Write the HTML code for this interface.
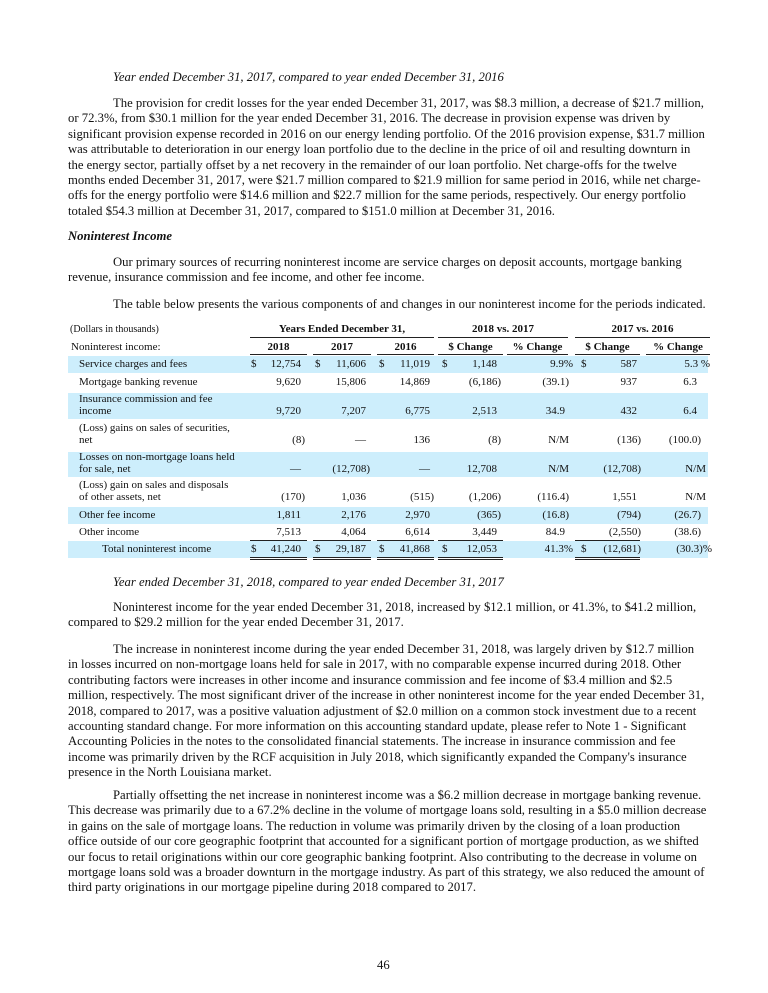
<!DOCTYPE html>
<html><head><meta charset="utf-8"><style>
html,body{margin:0;padding:0;background:#fff;}
body{width:768px;height:993px;position:relative;overflow:hidden;font-family:"Liberation Serif",serif;color:#111;}
.l{position:absolute;white-space:nowrap;font-size:12.7px;line-height:16px;}
.i{font-style:italic;}
.b{font-weight:bold;}
.t{position:absolute;white-space:nowrap;font-size:11px;line-height:14px;}
.band{position:absolute;left:68px;width:640px;background:#cdeefc;}
.hl{position:absolute;height:1.4px;background:#222;}
</style></head><body>

<div class="l i" style="left:113px;top:69px">Year ended December 31, 2017, compared to year ended December 31, 2016</div>
<div class="l" style="left:113px;top:95px">The provision for credit losses for the year ended December 31, 2017, was $8.3 million, a decrease of $21.7 million,</div>
<div class="l" style="left:68px;top:110.4px">or 72.3%, from $30.1 million for the year ended December 31, 2016. The decrease in provision expense was driven by</div>
<div class="l" style="left:68px;top:125.8px">significant provision expense recorded in 2016 on our energy lending portfolio. Of the 2016 provision expense, $31.7 million</div>
<div class="l" style="left:68px;top:141.2px">was attributable to deterioration in our energy loan portfolio due to the decline in the price of oil and resulting downturn in</div>
<div class="l" style="left:68px;top:156.6px">the energy sector, partially offset by a net recovery in the remainder of our loan portfolio. Net charge-offs for the twelve</div>
<div class="l" style="left:68px;top:172px">months ended December 31, 2017, were $21.7 million compared to $21.9 million for same period in 2016, while net charge-</div>
<div class="l" style="left:68px;top:187.4px">offs for the energy portfolio were $14.6 million and $22.7 million for the same periods, respectively. Our energy portfolio</div>
<div class="l" style="left:68px;top:202.8px">totaled $54.3 million at December 31, 2017, compared to $151.0 million at December 31, 2016.</div>

<div class="l i b" style="left:68px;top:228px">Noninterest Income</div>
<div class="l" style="left:113px;top:254px">Our primary sources of recurring noninterest income are service charges on deposit accounts, mortgage banking</div>
<div class="l" style="left:68px;top:269.4px">revenue, insurance commission and fee income, and other fee income.</div>
<div class="l" style="left:113px;top:296px">The table below presents the various components of and changes in our noninterest income for the periods indicated.</div>

<!-- table bands -->
<div class="band" style="top:356px;height:17px"></div>
<div class="band" style="top:393px;height:26px"></div>
<div class="band" style="top:452px;height:25px"></div>
<div class="band" style="top:507px;height:17px"></div>
<div class="band" style="top:541px;height:17px"></div>

<div class="t" style="left:70px;top:323px;font-size:10px">(Dollars in thousands)</div>
<div class="t b" style="left:250px;width:184px;text-align:center;top:322px">Years Ended December 31,</div>
<div class="t b" style="left:438px;width:130px;text-align:center;top:322px">2018 vs. 2017</div>
<div class="t b" style="left:575px;width:135px;text-align:center;top:322px">2017 vs. 2016</div>
<div class="hl" style="left:250px;width:184px;top:337px"></div>
<div class="hl" style="left:438px;width:130px;top:337px"></div>
<div class="hl" style="left:575px;width:135px;top:337px"></div>

<div class="t" style="left:71px;top:340px">Noninterest income:</div>
<div class="t b" style="left:250px;width:57px;text-align:center;top:340px">2018</div>
<div class="t b" style="left:313px;width:58px;text-align:center;top:340px">2017</div>
<div class="t b" style="left:377px;width:57px;text-align:center;top:340px">2016</div>
<div class="t b" style="left:438px;width:65px;text-align:center;top:340px">$ Change</div>
<div class="t b" style="left:507px;width:61px;text-align:center;top:340px">% Change</div>
<div class="t b" style="left:575px;width:65px;text-align:center;top:340px">$ Change</div>
<div class="t b" style="left:646px;width:64px;text-align:center;top:340px">% Change</div>
<div class="hl" style="left:250px;width:57px;top:354px"></div>
<div class="hl" style="left:313px;width:58px;top:354px"></div>
<div class="hl" style="left:377px;width:57px;top:354px"></div>
<div class="hl" style="left:438px;width:65px;top:354px"></div>
<div class="hl" style="left:507px;width:61px;top:354px"></div>
<div class="hl" style="left:575px;width:65px;top:354px"></div>
<div class="hl" style="left:646px;width:64px;top:354px"></div>

<!-- labels -->
<div class="t" style="left:79px;top:357px">Service charges and fees</div>
<div class="t" style="left:79px;top:375px">Mortgage banking revenue</div>
<div class="t" style="left:79px;top:392px">Insurance commission and fee</div>
<div class="t" style="left:79px;top:404px">income</div>
<div class="t" style="left:79px;top:421px">(Loss) gains on sales of securities,</div>
<div class="t" style="left:79px;top:433px">net</div>
<div class="t" style="left:79px;top:450px">Losses on non-mortgage loans held</div>
<div class="t" style="left:79px;top:462px">for sale, net</div>
<div class="t" style="left:79px;top:478px">(Loss) gain on sales and disposals</div>
<div class="t" style="left:79px;top:490px">of other assets, net</div>
<div class="t" style="left:79px;top:508px">Other fee income</div>
<div class="t" style="left:79px;top:525px">Other income</div>
<div class="t" style="left:102px;top:542px">Total noninterest income</div>

<!-- dollar signs -->
<div class="t" style="left:251px;top:357px">$</div>
<div class="t" style="left:315px;top:357px">$</div>
<div class="t" style="left:379px;top:357px">$</div>
<div class="t" style="left:442px;top:357px">$</div>
<div class="t" style="left:581px;top:357px">$</div>
<div class="t" style="left:251px;top:542px">$</div>
<div class="t" style="left:315px;top:542px">$</div>
<div class="t" style="left:379px;top:542px">$</div>
<div class="t" style="left:442px;top:542px">$</div>
<div class="t" style="left:581px;top:542px">$</div>

<!-- Service -->
<div class="t" style="right:467px;top:357px">12,754</div>
<div class="t" style="right:402px;top:357px">11,606</div>
<div class="t" style="right:338px;top:357px">11,019</div>
<div class="t" style="right:271px;top:357px">1,148</div>
<div class="t" style="right:195px;top:357px">9.9%</div>
<div class="t" style="right:131px;top:357px">587</div>
<div class="t" style="right:58px;top:357px">5.3 %</div>
<!-- Mortgage -->
<div class="t" style="right:467px;top:375px">9,620</div>
<div class="t" style="right:402px;top:375px">15,806</div>
<div class="t" style="right:338px;top:375px">14,869</div>
<div class="t" style="right:267px;top:375px">(6,186)</div>
<div class="t" style="right:199px;top:375px">(39.1)</div>
<div class="t" style="right:131px;top:375px">937</div>
<div class="t" style="right:71px;top:375px">6.3</div>
<!-- Insurance -->
<div class="t" style="right:467px;top:404px">9,720</div>
<div class="t" style="right:402px;top:404px">7,207</div>
<div class="t" style="right:338px;top:404px">6,775</div>
<div class="t" style="right:271px;top:404px">2,513</div>
<div class="t" style="right:203px;top:404px">34.9</div>
<div class="t" style="right:131px;top:404px">432</div>
<div class="t" style="right:71px;top:404px">6.4</div>
<!-- Loss gains securities -->
<div class="t" style="right:463px;top:433px">(8)</div>
<div class="t" style="right:402px;top:433px">—</div>
<div class="t" style="right:338px;top:433px">136</div>
<div class="t" style="right:267px;top:433px">(8)</div>
<div class="t" style="right:199px;top:433px">N/M</div>
<div class="t" style="right:127px;top:433px">(136)</div>
<div class="t" style="right:67px;top:433px">(100.0)</div>
<!-- Losses non-mortgage -->
<div class="t" style="right:467px;top:462px">—</div>
<div class="t" style="right:398px;top:462px">(12,708)</div>
<div class="t" style="right:338px;top:462px">—</div>
<div class="t" style="right:271px;top:462px">12,708</div>
<div class="t" style="right:199px;top:462px">N/M</div>
<div class="t" style="right:127px;top:462px">(12,708)</div>
<div class="t" style="right:62px;top:462px">N/M</div>
<!-- Loss gain other assets -->
<div class="t" style="right:463px;top:490px">(170)</div>
<div class="t" style="right:402px;top:490px">1,036</div>
<div class="t" style="right:334px;top:490px">(515)</div>
<div class="t" style="right:267px;top:490px">(1,206)</div>
<div class="t" style="right:199px;top:490px">(116.4)</div>
<div class="t" style="right:131px;top:490px">1,551</div>
<div class="t" style="right:62px;top:490px">N/M</div>
<!-- Other fee -->
<div class="t" style="right:467px;top:508px">1,811</div>
<div class="t" style="right:402px;top:508px">2,176</div>
<div class="t" style="right:338px;top:508px">2,970</div>
<div class="t" style="right:267px;top:508px">(365)</div>
<div class="t" style="right:199px;top:508px">(16.8)</div>
<div class="t" style="right:127px;top:508px">(794)</div>
<div class="t" style="right:67px;top:508px">(26.7)</div>
<!-- Other income -->
<div class="t" style="right:467px;top:525px">7,513</div>
<div class="t" style="right:402px;top:525px">4,064</div>
<div class="t" style="right:338px;top:525px">6,614</div>
<div class="t" style="right:271px;top:525px">3,449</div>
<div class="t" style="right:203px;top:525px">84.9</div>
<div class="t" style="right:127px;top:525px">(2,550)</div>
<div class="t" style="right:67px;top:525px">(38.6)</div>
<!-- Total -->
<div class="t" style="right:467px;top:542px">41,240</div>
<div class="t" style="right:402px;top:542px">29,187</div>
<div class="t" style="right:338px;top:542px">41,868</div>
<div class="t" style="right:271px;top:542px">12,053</div>
<div class="t" style="right:195px;top:542px">41.3%</div>
<div class="t" style="right:127px;top:542px">(12,681)</div>
<div class="t" style="right:56px;top:542px">(30.3)%</div>

<!-- total lines -->
<div class="hl" style="left:250px;width:57px;top:540px;height:1px"></div>
<div class="hl" style="left:313px;width:58px;top:540px;height:1px"></div>
<div class="hl" style="left:377px;width:57px;top:540px;height:1px"></div>
<div class="hl" style="left:438px;width:65px;top:540px;height:1px"></div>
<div class="hl" style="left:575px;width:65px;top:540px;height:1px"></div>
<div class="hl" style="left:250px;width:57px;top:556.5px;height:1px"></div>
<div class="hl" style="left:313px;width:58px;top:556.5px;height:1px"></div>
<div class="hl" style="left:377px;width:57px;top:556.5px;height:1px"></div>
<div class="hl" style="left:438px;width:65px;top:556.5px;height:1px"></div>
<div class="hl" style="left:575px;width:65px;top:556.5px;height:1px"></div>
<div class="hl" style="left:250px;width:57px;top:559px;height:1px"></div>
<div class="hl" style="left:313px;width:58px;top:559px;height:1px"></div>
<div class="hl" style="left:377px;width:57px;top:559px;height:1px"></div>
<div class="hl" style="left:438px;width:65px;top:559px;height:1px"></div>
<div class="hl" style="left:575px;width:65px;top:559px;height:1px"></div>

<div class="l i" style="left:113px;top:574px">Year ended December 31, 2018, compared to year ended December 31, 2017</div>
<div class="l" style="left:113px;top:599px">Noninterest income for the year ended December 31, 2018, increased by $12.1 million, or 41.3%, to $41.2 million,</div>
<div class="l" style="left:68px;top:614.4px">compared to $29.2 million for the year ended December 31, 2017.</div>

<div class="l" style="left:113px;top:641px">The increase in noninterest income during the year ended December 31, 2018, was largely driven by $12.7 million</div>
<div class="l" style="left:68px;top:656.4px">in losses incurred on non-mortgage loans held for sale in 2017, with no comparable expense incurred during 2018. Other</div>
<div class="l" style="left:68px;top:671.8px">contributing factors were increases in other income and insurance commission and fee income of $3.4 million and $2.5</div>
<div class="l" style="left:68px;top:687.2px">million, respectively. The most significant driver of the increase in other noninterest income for the year ended December 31,</div>
<div class="l" style="left:68px;top:702.6px">2018, compared to 2017, was a positive valuation adjustment of $2.0 million on a common stock investment due to a recent</div>
<div class="l" style="left:68px;top:718px">accounting standard change. For more information on this accounting standard update, please refer to Note 1 - Significant</div>
<div class="l" style="left:68px;top:733.4px">Accounting Policies in the notes to the consolidated financial statements. The increase in insurance commission and fee</div>
<div class="l" style="left:68px;top:748.8px">income was primarily driven by the RCF acquisition in July 2018, which significantly expanded the Company's insurance</div>
<div class="l" style="left:68px;top:764.2px">presence in the North Louisiana market.</div>

<div class="l" style="left:113px;top:787px">Partially offsetting the net increase in noninterest income was a $6.2 million decrease in mortgage banking revenue.</div>
<div class="l" style="left:68px;top:802.4px">This decrease was primarily due to a 67.2% decline in the volume of mortgage loans sold, resulting in a $5.0 million decrease</div>
<div class="l" style="left:68px;top:817.8px">in gains on the sale of mortgage loans. The reduction in volume was primarily driven by the closing of a loan production</div>
<div class="l" style="left:68px;top:833.2px">office outside of our core geographic footprint that accounted for a significant portion of mortgage production, as we shifted</div>
<div class="l" style="left:68px;top:848.6px">our focus to retail originations within our core geographic banking footprint. Also contributing to the decrease in volume on</div>
<div class="l" style="left:68px;top:864px">mortgage loans sold was a broader downturn in the mortgage industry. As part of this strategy, we also reduced the amount of</div>
<div class="l" style="left:68px;top:879.4px">third party originations in our mortgage pipeline during 2018 compared to 2017.</div>

<div class="l" style="left:377px;top:957px">46</div>
</body></html>
